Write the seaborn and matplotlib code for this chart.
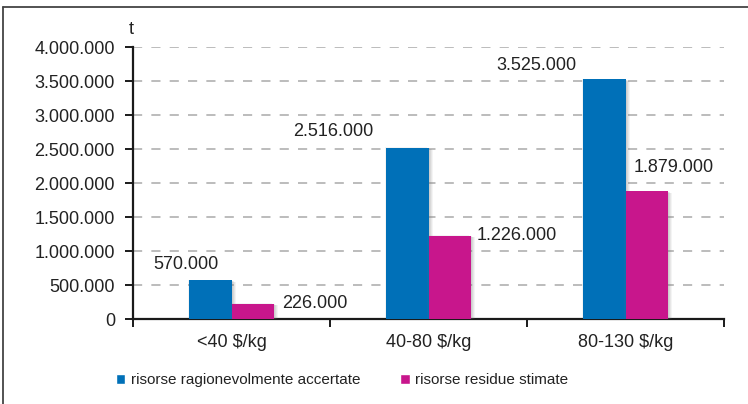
import matplotlib
matplotlib.use("Agg")
import matplotlib.pyplot as plt
import matplotlib.patheffects as pe
from matplotlib.lines import Line2D
from matplotlib.ticker import FuncFormatter
import pandas as pd
import seaborn as sns

categories = ["<40 $/kg", "40-80 $/kg", "80-130 $/kg"]
series = ["risorse ragionevolmente accertate", "risorse residue stimate"]
accertate = [570000, 2516000, 3525000]
stimate = [226000, 1226000, 1879000]
colors = ["#0070B8", "#C8168C"]

# label offsets in points (dx, dy) relative to bar corner
acc_offsets = [(-2, 11), (-9, 11.5), (-5, 10)]
sti_offsets = [(6, 0), (4, 0), (-25, 17)]

df = pd.DataFrame({
    "fascia": categories * 2,
    "serie": [series[0]] * 3 + [series[1]] * 3,
    "t": accertate + stimate,
})

sns.set_style("white")
plt.rcParams["font.family"] = ["Liberation Sans", "DejaVu Sans"]
plt.rcParams["text.color"] = "#222222"

fig = plt.figure(figsize=(7.48, 4.04), dpi=100)
ax = fig.add_axes([133 / 748, 85 / 404, 591 / 748, 272 / 404])

sns.barplot(data=df, x="fascia", y="t", hue="serie", palette=colors,
            width=0.43, saturation=1, ax=ax, zorder=3)

# soft shadow built from a few faint offset copies
shadow = [pe.SimplePatchShadow(offset=(o, -o * 0.4), shadow_rgbFace="#777777", alpha=a)
          for o, a in [(3.2, 0.08), (2.4, 0.1), (1.6, 0.12), (0.8, 0.12)]]
shadow.append(pe.SimplePatchShadow(offset=(-1, 0.5), shadow_rgbFace="#777777", alpha=0.08))
shadow.append(pe.Normal())
for p in ax.patches:
    p.set_path_effects(shadow)
    p.set_linewidth(0)

ax.set_ylim(0, 4000000)
ax.set_xlim(-0.5, 2.5)
ax.set_yticks(range(0, 4000001, 500000))
ax.yaxis.set_major_formatter(FuncFormatter(lambda v, _: f"{int(v):,}".replace(",", ".")))
ax.grid(axis="y", color="#aaaaaa", linestyle=(0, (6, 6)), linewidth=1.1, zorder=0)
ax.set_axisbelow(True)

for s in ["top", "right"]:
    ax.spines[s].set_visible(False)
for s in ["left", "bottom"]:
    ax.spines[s].set_color("#1a1a1a")
    ax.spines[s].set_linewidth(1.6)

ax.tick_params(axis="y", direction="out", length=6, width=1.4, color="#1a1a1a",
               labelsize=13, pad=7, labelcolor="#222222", left=True)
ax.tick_params(axis="x", which="major", length=0, labelsize=13, pad=11, labelcolor="#222222")
ax.set_xticks([-0.5, 0.5, 1.5, 2.5], minor=True)
ax.tick_params(axis="x", which="minor", direction="out", length=6, width=1.4,
               color="#1a1a1a", bottom=True)
ax.set_xlabel("")
ax.set_ylabel("")

ax.annotate("t", xy=(0, 1), xycoords="axes fraction", xytext=(-1, 6.5),
            textcoords="offset points", ha="center", va="bottom", fontsize=13)

bars = ax.containers
for bar, val, (dx, dy) in zip(bars[0], accertate, acc_offsets):
    ha = "center" if dx > -3 else "right"
    ax.annotate(f"{val:,}".replace(",", "."), xy=(bar.get_x(), bar.get_height()),
                xytext=(dx, dy), textcoords="offset points", ha=ha, va="center", fontsize=13)
for bar, val, (dx, dy) in zip(bars[1], stimate, sti_offsets):
    ax.annotate(f"{val:,}".replace(",", "."), xy=(bar.get_x() + bar.get_width(), bar.get_height()),
                xytext=(dx, dy), textcoords="offset points", ha="left", va="center", fontsize=13)

sns.move_legend(ax, loc="center", bbox_to_anchor=(342 / 748, 24 / 404),
                bbox_transform=fig.transFigure, ncol=2, frameon=False, title=None,
                fontsize=11, handlelength=0.65, handleheight=0.65, handletextpad=0.35,
                columnspacing=2.6)

fig.add_artist(Line2D([3 / 748, 1], [397 / 404, 397 / 404], color="#444444", lw=1.3))
fig.add_artist(Line2D([3.5 / 748, 3.5 / 748], [0, 397 / 404], color="#444444", lw=1.3))

fig.savefig("out.png", dpi=100)
